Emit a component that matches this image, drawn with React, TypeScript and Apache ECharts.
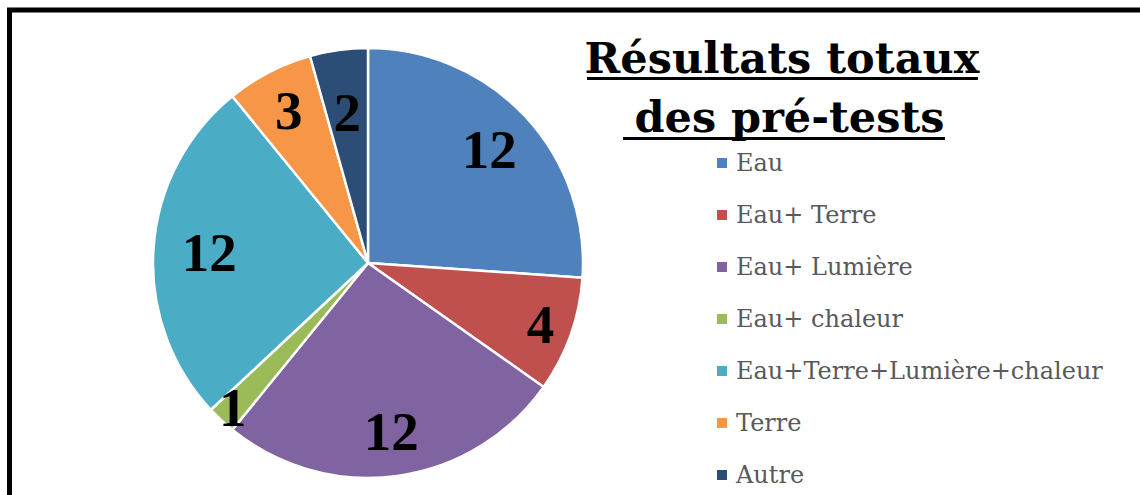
import React, { useEffect, useRef } from "react";
import * as echarts from "echarts";

const categories = [
  "Eau",
  "Eau+ Terre",
  "Eau+ Lumière",
  "Eau+ chaleur",
  "Eau+Terre+Lumière+chaleur",
  "Terre",
  "Autre",
];
const values = [12, 4, 12, 1, 12, 3, 2];
const colors = ["#4F81BD", "#C0504D", "#8064A2", "#9BBB59", "#4BACC6", "#F79646", "#2C4D75"];
const titleLines = ["Résultats totaux", " des pré-tests"];

// label distance from centre for each slice (style)
const labelRadius = [163, 180, 167, 195, 156, 169, 149];

const CENTER = [368, 263];
const R = 215;

export default function App() {
  const ref = useRef<HTMLDivElement>(null);
  useEffect(() => {
    if (!ref.current) return;
    const chart = echarts.init(ref.current, undefined, { renderer: "svg" });
    const data = categories.map((name, i) => ({
      name,
      value: values[i],
      itemStyle: { color: colors[i] },
    }));
    const labelSeries = categories.map((_, k) => ({
      type: "pie",
      silent: true,
      center: CENTER,
      radius: [0, labelRadius[k] * 2],
      startAngle: 90,
      clockwise: true,
      z: 5,
      itemStyle: { color: "rgba(0,0,0,0)", borderWidth: 0 },
      labelLine: { show: false },
      emphasis: { disabled: true },
      data: categories.map((name, i) => ({
        name,
        value: values[i],
        label: {
          show: i === k,
          position: "inside",
          formatter: "{c}",
          color: "#000",
          fontFamily: "Liberation Serif",
          fontWeight: "bold",
          fontSize: 55,
        },
      })),
    }));
    chart.setOption({
      animation: false,
      backgroundColor: "#fff",
      legend: {
        orient: "vertical",
        left: 710,
        top: 145,
        height: 400,
        data: categories,
        icon: "rect",
        itemWidth: 12,
        itemHeight: 12,
        itemGap: 26,
        selectedMode: false,
        textStyle: {
          color: "#595959",
          fontFamily: "DejaVu Serif",
          fontSize: 24,
          lineHeight: 26,
          padding: [0, 0, 0, 3],
        },
      },
      graphic: [
        {
          type: "rect",
          shape: { x: 9.5, y: 10, width: 1300, height: 700 },
          style: { fill: "none", stroke: "#000", lineWidth: 5 },
          silent: true,
          z: 100,
        },
        {
          type: "text",
          x: 782,
          y: 28,
          style: {
            text: titleLines.join("\n"),
            fill: "#000",
            font: "bold 43px 'DejaVu Serif'",
            lineHeight: 59,
            align: "center",
            verticalAlign: "top",
          },
        },
        {
          type: "rect",
          shape: { x: 587, y: 77, width: 391, height: 3 },
          style: { fill: "#000" },
        },
        {
          type: "rect",
          shape: { x: 623, y: 137, width: 322, height: 3 },
          style: { fill: "#000" },
        },
      ],
      series: [
        {
          type: "pie",
          center: CENTER,
          radius: [0, R],
          startAngle: 90,
          clockwise: true,
          itemStyle: { borderColor: "#fff", borderWidth: 2.5 },
          label: { show: false },
          labelLine: { show: false },
          emphasis: { disabled: true },
          data,
        },
        ...labelSeries,
      ],
    });
    return () => chart.dispose();
  }, []);
  return (
    <div
      ref={ref}
      style={{ position: "absolute", left: 0, top: 0, width: 1140, height: 495 }}
    />
  );
}
